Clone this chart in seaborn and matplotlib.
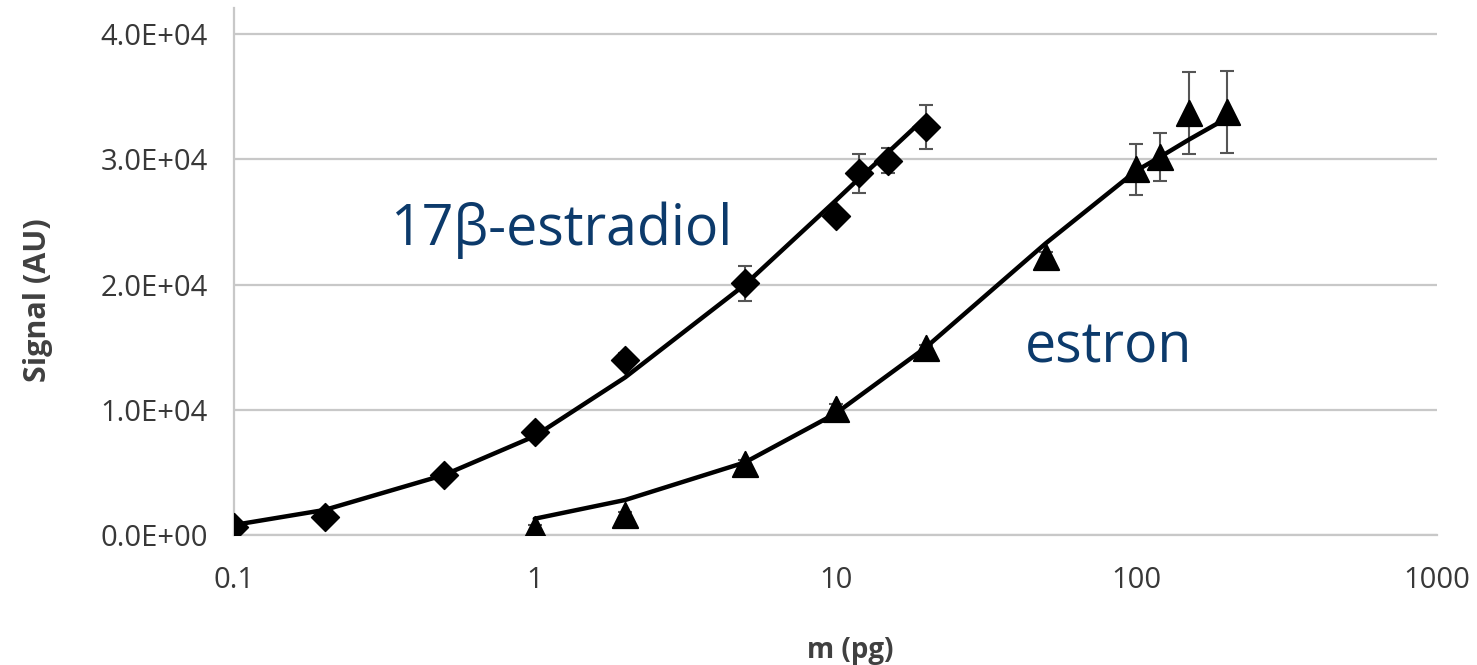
import numpy as np
import pandas as pd
import matplotlib
matplotlib.use("Agg")
import matplotlib.pyplot as plt
import seaborn as sns
from matplotlib.ticker import FuncFormatter, FixedLocator, NullLocator

# ---- data ----
estradiol_m = [0.1, 0.2, 0.5, 1, 2, 5, 10, 12, 15, 20]
estradiol_signal = [600, 1400, 4800, 8200, 14000, 20100, 25500, 28900, 29900, 32600]
estradiol_err = [200, 300, 300, 400, 500, 1400, 400, 1550, 1000, 1750]
estradiol_fit = [800, 2000, 4800, 7900, 12600, 20000, 26700, 28500, 30600, 33400]

estron_m = [1, 2, 5, 10, 20, 50, 100, 120, 150, 200]
estron_signal = [500, 1600, 5700, 10100, 14900, 22200, 29200, 30200, 33700, 33800]
estron_err = [300, 200, 300, 400, 300, 400, 2000, 1900, 3250, 3300]
estron_fit = [1300, 2800, 5800, 9700, 15000, 23300, 29100, 30200, 31600, 33300]

x_ticks = [0.1, 1, 10, 100, 1000]
x_tick_labels = ["0.1", "1", "10", "100", "1000"]
y_ticks = [0, 10000, 20000, 30000, 40000]

df_e2 = pd.DataFrame({"m": estradiol_m, "signal": estradiol_signal,
                      "err": estradiol_err, "fit": estradiol_fit})
df_e1 = pd.DataFrame({"m": estron_m, "signal": estron_signal,
                      "err": estron_err, "fit": estron_fit})

sns.set_style("white")
plt.rcParams["font.family"] = ["Open Sans", "DejaVu Sans"]

fig = plt.figure(figsize=(14.77, 6.65), dpi=100)
ax = fig.add_axes([234 / 1477, 1 - 535 / 665, (1437 - 234) / 1477, (535 - 8) / 665])

grid_c = "#c8c8c8"
for yv in y_ticks:
    ax.axhline(yv, color=grid_c, lw=1.6, zorder=0)

# error bars
for df in (df_e2, df_e1):
    ax.errorbar(df["m"], df["signal"], yerr=df["err"], fmt="none",
                ecolor="#555555", elinewidth=1.5, capsize=5, capthick=1.5, zorder=2)

# fit lines
sns.lineplot(data=df_e2, x="m", y="fit", ax=ax, color="black", lw=3.2, zorder=3,
             estimator=None, sort=True)
sns.lineplot(data=df_e1, x="m", y="fit", ax=ax, color="black", lw=3.2, zorder=3,
             estimator=None, sort=True)

# markers
sns.scatterplot(data=df_e2, x="m", y="signal", ax=ax, marker="D", s=200,
                color="black", edgecolor="black", zorder=4)
sns.scatterplot(data=df_e1, x="m", y="signal", ax=ax, marker="^", s=330,
                color="black", edgecolor="black", zorder=4)

ax.set_xscale("log")
ax.set_xlim(0.1, 1000)
ax.set_ylim(0, 42100)
ax.xaxis.set_major_locator(FixedLocator(x_ticks))
ax.xaxis.set_minor_locator(NullLocator())
ax.set_xticklabels(x_tick_labels)
ax.yaxis.set_major_locator(FixedLocator(y_ticks))
ax.yaxis.set_major_formatter(FuncFormatter(lambda v, p: f"{v:.1E}"))

for s in ["top", "right"]:
    ax.spines[s].set_visible(False)
ax.spines["left"].set_color(grid_c)
ax.spines["left"].set_linewidth(1.6)
ax.spines["bottom"].set_color(grid_c)
ax.spines["bottom"].set_linewidth(1.6)
ax.tick_params(axis="both", which="major", direction="out", length=8, width=1.4,
               color=grid_c, labelsize=21, labelcolor="#383838")
ax.tick_params(axis="y", pad=11)
ax.tick_params(axis="x", pad=14)

ax.set_xlabel("m (pg)", fontsize=20, fontweight="bold", color="#404040", labelpad=30)
ax.set_ylabel("Signal (AU)", fontsize=22, fontweight="bold", color="#404040", labelpad=34)
ax.xaxis.label.set_x(0.512)
ax.yaxis.label.set_y(0.446)

text_c = "#0c3a6b"
ax.text(0.33, 23200, "17β-estradiol", fontsize=40,
        color=text_c, ha="left", va="baseline")
ax.text(42.5, 13800, "estron", fontsize=40,
        color=text_c, ha="left", va="baseline")

fig.savefig("out.png", dpi=100)
